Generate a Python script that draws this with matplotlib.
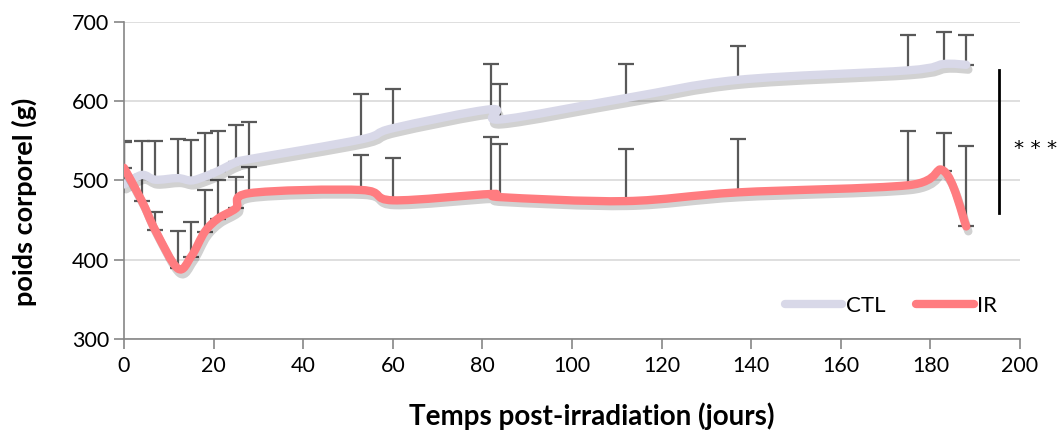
import numpy as np
import matplotlib
matplotlib.use("Agg")
import matplotlib.pyplot as plt
from matplotlib.path import Path
from matplotlib.patches import PathPatch
import matplotlib.patheffects as pe

plt.rcParams['font.family'] = ['Lato', 'DejaVu Sans']

# days after irradiation
days = [0, 4, 7, 12, 15, 18, 21, 25, 28, 53, 60, 82, 84, 112, 137, 175, 183, 188]

# body weight (g), mean and top of error bar
ctl = [495, 507, 501, 503, 500, 505, 512, 523, 527, 552, 566, 590, 577, 604, 627, 639, 647, 646]
ctl_top = [550, 550, 550, 552, 551, 560, 562, 570, 574, 609, 616, 647, 622, 647, 670, 684, 687, 684]
ir = [516, 474, 437, 389, 404, 435, 452, 465, 484, 488, 475, 483, 479, 474, 485, 494, 512, 442]
ir_top = [549, 505, 460, 436, 447, 488, 501, 505, 517, 532, 529, 555, 546, 540, 552, 562, 560, 544]

ctl_color = "#D8D8E8"
ir_color = "#FF7C80"


def smooth_path(x, y):
    # Catmull-Rom through the points, drawn as cubic Bezier segments
    p = np.column_stack([x, y]).astype(float)
    ext = np.vstack([p[0], p, p[-1]])
    verts = [p[0]]
    codes = [Path.MOVETO]
    for i in range(len(p) - 1):
        a, b, c, d = ext[i], ext[i + 1], ext[i + 2], ext[i + 3]
        verts += [b + (c - a) / 6, c - (d - b) / 6, c]
        codes += [Path.CURVE4] * 3
    return Path(verts, codes)


fig = plt.figure(figsize=(10.59, 4.33), dpi=100)
ax = fig.add_axes([0.1171, 0.2171, 0.8461, 0.7321])

ax.errorbar(days, ctl, yerr=[np.zeros(len(ctl)), np.array(ctl_top) - np.array(ctl)],
            fmt='none', ecolor="#595959", elinewidth=1.6, capsize=6, capthick=1.6, zorder=2)
ax.errorbar(days, ir, yerr=[np.zeros(len(ir)), np.array(ir_top) - np.array(ir)],
            fmt='none', ecolor="#595959", elinewidth=1.6, capsize=6, capthick=1.6, zorder=2)

shadow = [pe.SimpleLineShadow(offset=(1.5, -3.5), shadow_color='k', alpha=0.18), pe.Normal()]
for yv, col in [(ctl, ctl_color), (ir, ir_color)]:
    patch = PathPatch(smooth_path(days, yv), fill=False, edgecolor=col, linewidth=6,
                      capstyle='round', joinstyle='round', zorder=3)
    patch.set_path_effects(shadow)
    ax.add_patch(patch)

# legend proxies
ax.plot([], [], color=ctl_color, lw=6, solid_capstyle='round', label="CTL")
ax.plot([], [], color=ir_color, lw=6, solid_capstyle='round', label="IR")
leg = ax.legend(loc='lower right', bbox_to_anchor=(0.997, 0.01), ncol=2, frameon=False,
                fontsize=16, handlelength=2.6, handletextpad=0.15, columnspacing=1.4)

# significance bar
ax.plot([195.3, 195.3], [459, 640], color='k', lw=2, zorder=3)
ax.text(198.6, 540, "* * *", fontsize=14.5, family='DejaVu Sans',
        va='center', ha='left', clip_on=False)

ax.set_xlim(0, 200)
ax.set_ylim(300, 700)
ax.set_xticks(range(0, 201, 20))
ax.set_yticks(range(300, 701, 100))
ax.grid(True, axis='y', color="#D9D9D9", lw=1.2)
ax.set_axisbelow(True)
for s in ['top', 'right']:
    ax.spines[s].set_visible(False)
for s in ['left', 'bottom']:
    ax.spines[s].set_color("#868686")
    ax.spines[s].set_linewidth(1.2)
ax.tick_params(axis='both', colors="#868686", labelcolor='black', labelsize=15.5,
               length=7, width=1.2)
ax.tick_params(axis='x', pad=5)

ax.set_xlabel("Temps post-irradiation (jours)", fontsize=20, fontweight='bold')
ax.set_ylabel("poids corporel (g)", fontsize=19.5, fontweight='bold')
ax.xaxis.set_label_coords(0.522, -0.2)
ax.yaxis.set_label_coords(-0.097, 0.432)

fig.savefig("out.png", dpi=100)
